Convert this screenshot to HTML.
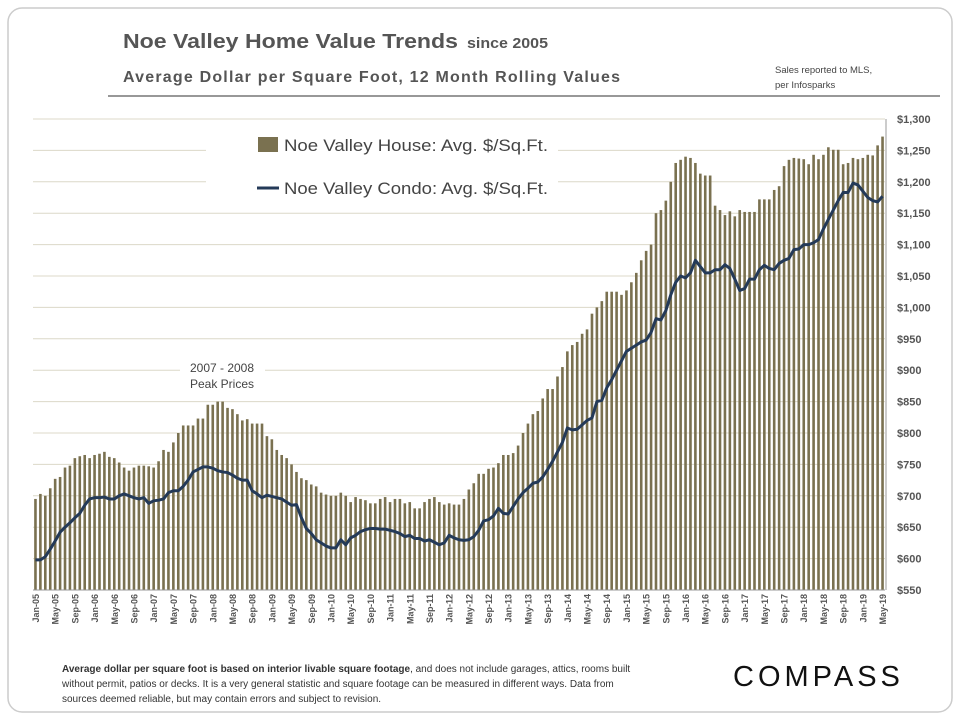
<!DOCTYPE html>
<html><head><meta charset="utf-8"><style>
body{margin:0;background:#fff;font-family:"Liberation Sans",sans-serif}
svg text{font-family:"Liberation Sans",sans-serif}
</style></head><body>
<svg id="c" width="960" height="720" viewBox="0 0 960 720">
<rect x="8" y="8" width="944" height="704" rx="14" fill="#fff" stroke="#ccc" stroke-width="1.5"/>
<text x="123" y="48" font-size="20" font-weight="bold" fill="#555" textLength="335" lengthAdjust="spacingAndGlyphs">Noe Valley Home Value Trends</text>
<text x="467" y="48" font-size="15" font-weight="bold" fill="#555" textLength="81" lengthAdjust="spacingAndGlyphs">since 2005</text>
<text x="123" y="82" font-size="16" font-weight="bold" fill="#555" textLength="497" lengthAdjust="spacing">Average Dollar per Square Foot, 12 Month Rolling Values</text>
<text x="775" y="73" font-size="9.5" fill="#444">Sales reported to MLS,</text>
<text x="775" y="88" font-size="9.5" fill="#444">per Infosparks</text>
<line x1="108" y1="96" x2="940" y2="96" stroke="#777" stroke-width="1.5"/>
<g id="grid"></g><g id="bars"></g><g id="line"></g><g id="axes"></g>
<rect x="206" y="124" width="352" height="84" fill="#fff"/>
<rect x="258" y="137" width="20" height="15" fill="#7a7150"/>
<text x="284" y="151" font-size="17" fill="#444" textLength="264" lengthAdjust="spacingAndGlyphs">Noe Valley House: Avg. $/Sq.Ft.</text>
<line x1="257" y1="188" x2="279" y2="188" stroke="#243a58" stroke-width="3"/>
<text x="284" y="194" font-size="17" fill="#444" textLength="264" lengthAdjust="spacingAndGlyphs">Noe Valley Condo: Avg. $/Sq.Ft.</text>
<rect x="180" y="356" width="85" height="36" fill="#fff"/>
<text x="222" y="372" font-size="12" fill="#444" text-anchor="middle">2007  - 2008</text>
<text x="222" y="388" font-size="12" fill="#444" text-anchor="middle">Peak Prices</text>
<text x="62" y="672" font-size="10" fill="#333"><tspan font-weight="bold">Average dollar per square foot is based on interior livable square footage</tspan>, and does not include garages, attics, rooms built</text>
<text x="62" y="687" font-size="10" fill="#333">without permit, patios or decks. It is a very general statistic and square footage can be measured in different ways. Data from</text>
<text x="62" y="702" font-size="10" fill="#333">sources deemed reliable, but may contain errors and subject to revision.</text>
<text x="733" y="686" font-size="29" fill="#111" letter-spacing="4">COMPASS</text>
</svg>
<script>
const house=[695,703,700,712,727,730,745,748,760,763,765,760,
765,767,770,762,760,753,745,740,745,748,748,747,
745,755,773,770,785,800,812,812,812,823,823,845,
845,850,850,840,838,830,820,822,815,815,815,795,
790,773,765,760,750,738,728,725,718,715,705,702,
700,700,705,700,690,698,695,693,688,688,695,698,
690,695,695,688,690,680,680,690,695,698,690,686,
688,686,686,695,710,720,735,735,743,745,752,765,
765,768,780,800,815,830,835,855,870,870,890,905,
930,940,945,958,965,990,1000,1010,1025,1025,1025,1020,
1027,1040,1055,1075,1090,1100,1150,1155,1170,1200,1230,1235,
1240,1238,1230,1213,1210,1210,1162,1155,1147,1153,1145,1155,
1152,1152,1152,1172,1172,1172,1187,1193,1225,1235,1238,1237,
1236,1228,1243,1236,1243,1255,1251,1251,1228,1230,1238,1236,
1238,1243,1242,1258,1272];
const condo=[598,598,603,615,628,642,650,657,665,672,685,695,
697,697,698,695,695,700,703,700,697,695,697,688,
692,693,695,705,708,708,715,725,738,742,746,746,
744,740,738,737,733,728,725,725,708,703,697,701,
699,697,695,690,685,686,665,648,640,630,625,620,
617,617,630,622,633,637,643,646,648,648,647,647,
645,643,640,635,637,632,632,628,630,626,622,625,
637,633,630,629,630,635,645,660,662,668,680,672,
671,683,695,705,712,720,722,730,742,755,770,785,
808,805,806,813,820,824,850,852,872,885,900,915,
930,935,940,945,948,960,982,980,995,1020,1040,1050,
1047,1055,1075,1065,1055,1055,1060,1060,1068,1062,1045,1027,
1030,1045,1045,1060,1067,1062,1060,1070,1075,1078,1092,1093,
1100,1100,1103,1108,1125,1140,1155,1170,1183,1183,1198,1195,
1185,1175,1170,1168,1177];
const yTicks=[550,600,650,700,750,800,850,900,950,1000,1050,1100,1150,1200,1250,1300];
const monthNames=['Jan','May','Sep'];
const NS='http://www.w3.org/2000/svg';
const X0=33,X1=885,Y0=590,Y1=119,VMIN=550,VMAX=1300;
const n=house.length,band=(X1-X0)/n;
function xs(i){return X0+band*(i+0.5);}
function ys(v){return Y0-(v-VMIN)/(VMAX-VMIN)*(Y0-Y1);}
function mk(t,a,p){const e=document.createElementNS(NS,t);for(const k in a)e.setAttribute(k,a[k]);p.appendChild(e);return e;}
const G=document.getElementById('grid'),B=document.getElementById('bars'),L=document.getElementById('line'),A=document.getElementById('axes');
yTicks.forEach(v=>{
 const l=mk('line',{x1:X0,x2:X1,y1:ys(v),y2:ys(v),stroke:'#dcd8c8','stroke-width':1},G);
 
 
 const t=mk('text',{x:897,y:ys(v)+4,'font-size':11,'font-weight':'bold',fill:'#555'},A);
 t.textContent='$'+v.toLocaleString('en-US');
 
 
});
house.forEach((v,i)=>{
 const r=mk('rect',{x:xs(i)-1.3,y:ys(v),width:2.6,height:Y0-ys(v),fill:'#7a7150'},B);
 
 
});
const p=mk('polyline',{points:condo.map((v,i)=>xs(i)+','+ys(v)).join(' '),fill:'none',stroke:'#243a58','stroke-width':3,'stroke-linejoin':'round'},L);


const ax=mk('line',{x1:X0,x2:X1,y1:Y0,y2:Y0,stroke:'#999','stroke-width':1},A);


const ay=mk('line',{x1:X1+1,x2:X1+1,y1:Y1,y2:Y0,stroke:'#999','stroke-width':1},A);


for(let i=0;i<n;i+=4){
 const yr=5+Math.floor(i/12);
 const lab=monthNames[(i%12)/4]+'-'+String(yr).padStart(2,'0');
 const x=xs(i)+3.5;
 const t=mk('text',{x:x,y:594,'font-size':9,'font-weight':'bold',fill:'#555','text-anchor':'end',transform:'rotate(-90 '+x+' 594)'},A);
 t.textContent=lab;
 
 
}
</script>
</body></html>
